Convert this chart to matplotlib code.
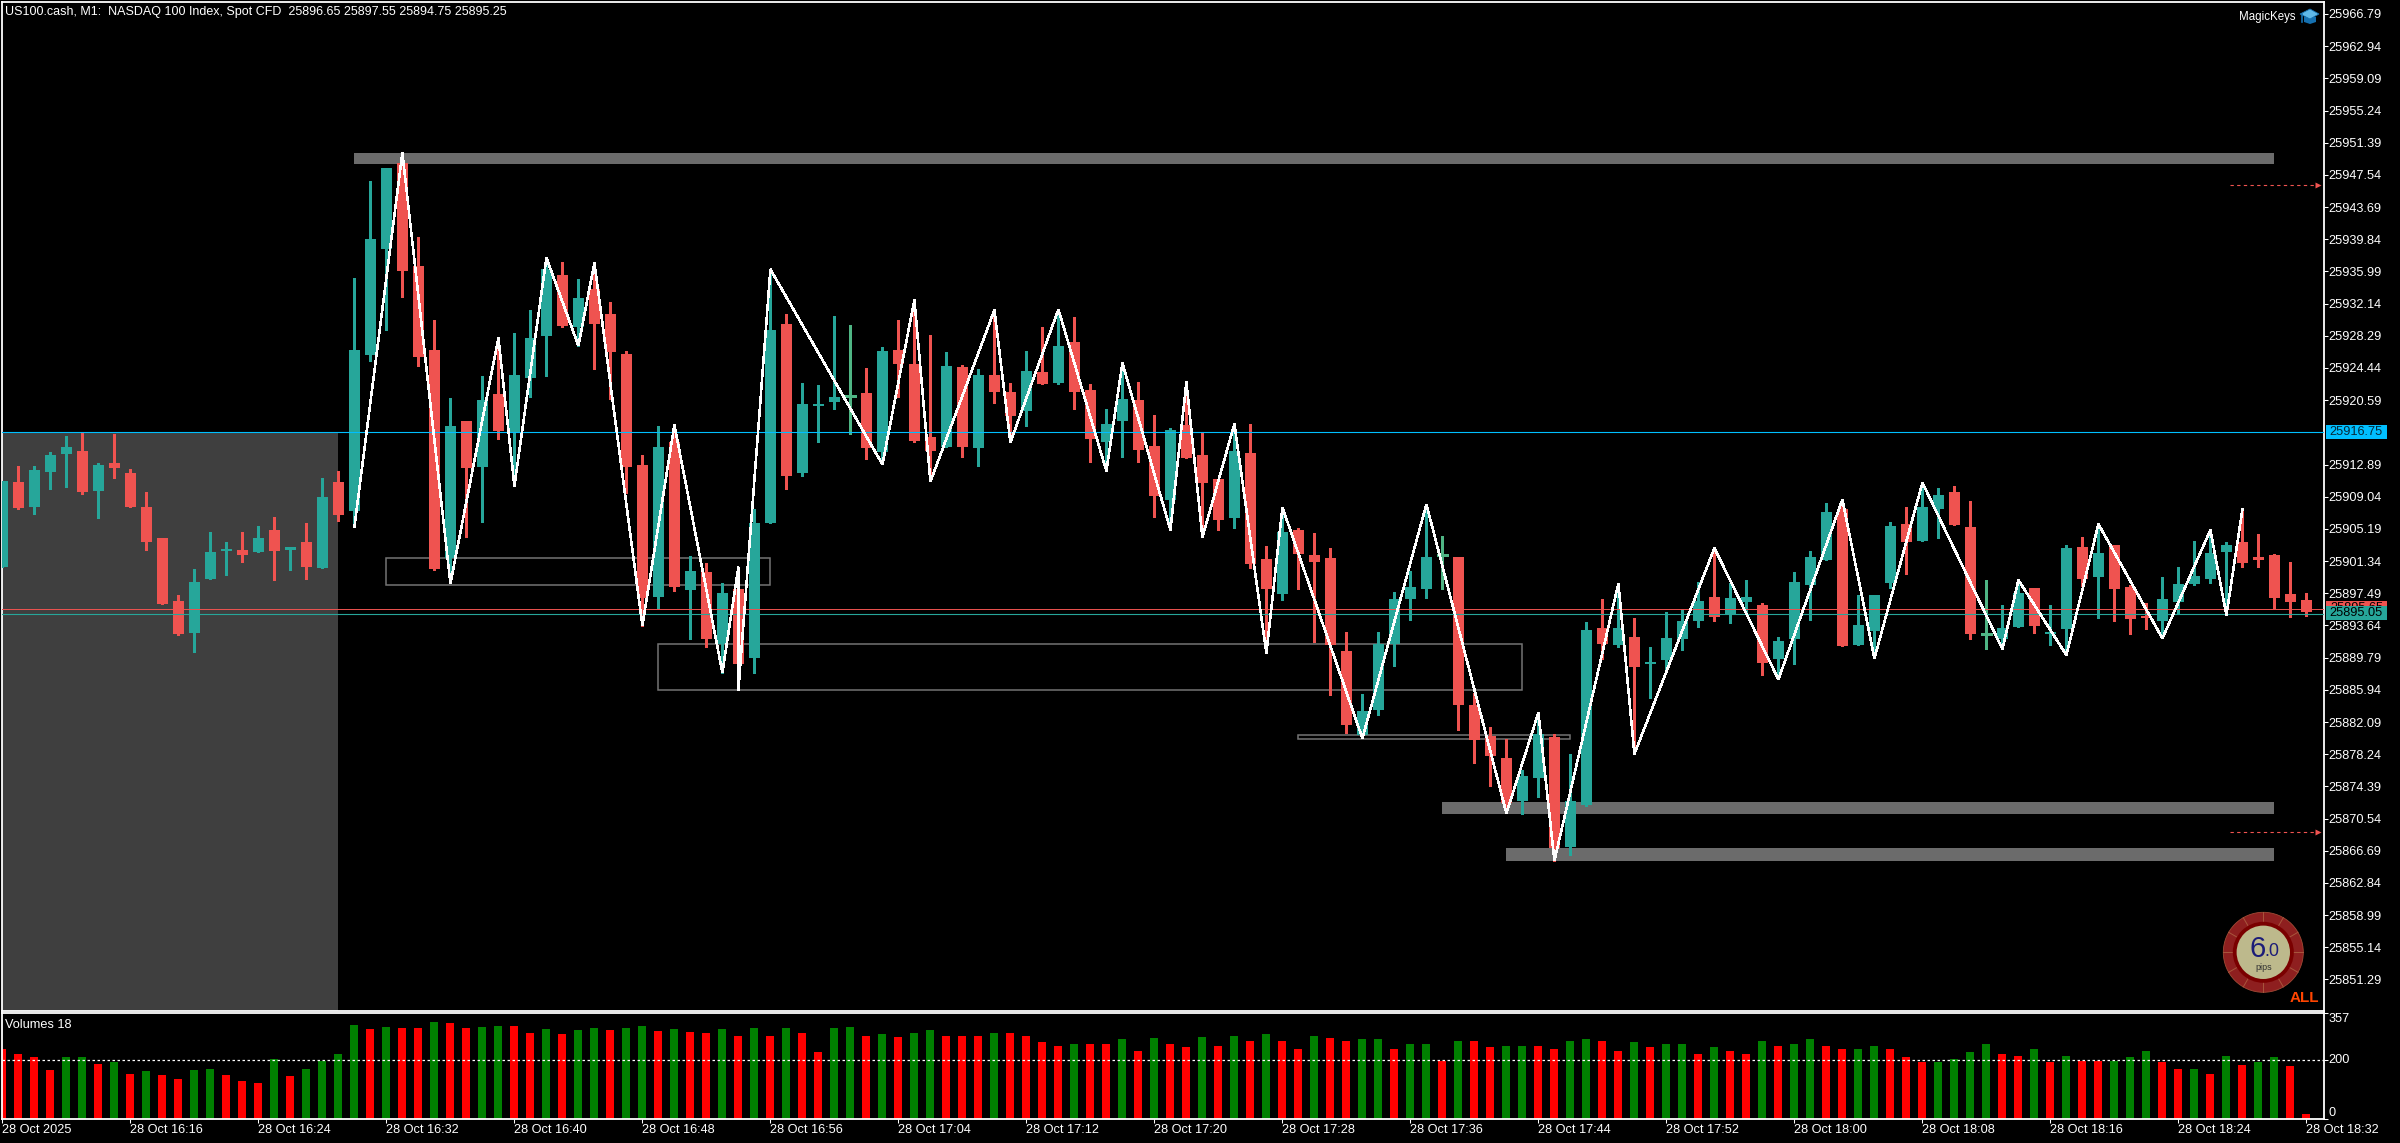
import matplotlib
matplotlib.use("Agg")
import matplotlib.pyplot as plt
from matplotlib.patches import Rectangle, Circle, Polygon
import numpy as np

plt.rcParams['font.family'] = ['Liberation Sans', 'DejaVu Sans']

# ---------- data ----------
opens = [25900.62,25910.79,25907.80,25911.98,25914.16,25914.50,25909.72,25913.09,25911.90,25907.80,
25904.12,25896.56,25892.76,25899.21,25902.54,25902.67,25902.41,25905.06,25902.67,25903.61,
25900.54,25910.79,25907.33,25926.00,25938.68,25948.98,25936.63,25926.59,25901.73,25918.09,
25912.58,25921.34,25916.68,25923.26,25928.26,25935.57,25929.33,25933.90,25930.89,25926.11,
25912.83,25897.05,25915.59,25897.88,25900.04,25891.42,25898.00,25889.75,25905.90,25929.70,
25911.88,25919.89,25920.37,25921.05,25921.45,25914.39,25926.59,25924.91,25916.18,25914.99,
25924.56,25914.87,25923.60,25921.57,25919.29,25923.96,25922.64,25927.55,25921.80,25915.59,
25918.10,25920.61,25915.11,25908.65,25917.62,25914.03,25911.16,25906.50,25914.27,25901.59,
25897.41,25905.06,25902.07,25901.71,25890.59,25880.54,25883.53,25891.43,25896.81,25898.00,
25902.03,25901.83,25884.13,25880.42,25877.79,25872.65,25875.40,25880.30,25867.14,25872.17,
25893.34,25891.31,25892.26,25889.03,25889.51,25892.02,25894.18,25897.04,25895.05,25896.44,
25896.08,25889.62,25892.02,25898.47,25901.47,25907.57,25891.30,25892.97,25898.71,25905.77,
25903.74,25907.57,25909.60,25905.41,25892.57,25892.02,25893.45,25898.12,25892.61,25893.21,
25903.02,25899.43,25903.26,25898.24,25894.77,25894.17,25896.44,25898.59,25899.19,25902.42,
25903.62,25901.82,25902.06,25897.40,25896.65]

closes = [25910.92,25907.71,25912.24,25914.03,25914.97,25909.59,25912.84,25912.50,25907.80,25903.61,
25896.22,25892.63,25898.83,25902.41,25902.80,25902.07,25904.12,25902.54,25903.01,25900.62,
25908.99,25906.86,25926.59,25939.88,25948.38,25936.04,25925.74,25900.41,25917.50,25912.50,
25920.61,25916.90,25923.60,25928.05,25936.29,25929.46,25932.83,25929.71,25926.35,25912.59,
25896.93,25914.99,25898.24,25900.16,25892.02,25897.52,25889.03,25905.90,25928.98,25911.52,
25920.13,25920.13,25920.97,25921.05,25914.87,25926.47,25924.91,25915.70,25914.51,25924.68,
25914.99,25923.60,25921.57,25918.69,25924.08,25922.52,25927.07,25921.57,25915.94,25917.74,
25920.73,25914.63,25909.13,25917.02,25913.67,25910.68,25906.26,25914.51,25900.99,25898.00,
25904.82,25902.19,25901.23,25891.31,25881.74,25883.41,25891.43,25896.81,25898.24,25901.83,
25902.03,25884.13,25879.94,25878.03,25872.37,25875.64,25880.66,25866.98,25872.65,25893.10,
25891.43,25893.34,25888.67,25889.27,25892.14,25894.18,25896.57,25894.65,25896.92,25897.04,
25889.15,25891.78,25898.83,25901.82,25907.21,25891.18,25893.69,25897.28,25905.53,25903.62,
25907.80,25909.24,25905.65,25892.61,25892.57,25893.33,25897.52,25893.57,25892.85,25902.90,
25899.19,25902.30,25898.00,25894.41,25894.53,25896.80,25898.59,25899.55,25902.30,25903.26,
25901.11,25901.47,25896.92,25896.44,25895.25]

highs = [25910.92,25912.71,25912.71,25914.38,25916.30,25916.68,25913.09,25916.56,25912.37,25909.59,
25904.12,25897.29,25900.41,25904.81,25903.61,25904.81,25905.53,25906.60,25903.01,25905.92,
25911.30,25912.11,25935.22,25946.80,25948.38,25950.18,25940.09,25930.18,25920.87,25918.09,
25923.48,25926.85,25928.64,25931.38,25937.62,25937.10,25935.10,25937.02,25932.33,25926.47,
25914.03,25917.50,25917.62,25901.95,25901.11,25898.72,25900.63,25907.57,25936.24,25930.89,
25922.64,25922.40,25930.66,25929.58,25924.44,25926.95,25930.18,25932.57,25928.38,25926.35,
25924.79,25924.32,25931.37,25922.64,25926.47,25929.34,25931.49,25930.54,25922.52,25919.53,
25925.03,25922.76,25918.81,25917.26,25922.76,25916.74,25911.16,25917.74,25917.74,25903.15,
25907.77,25905.30,25904.70,25902.91,25892.86,25885.45,25892.86,25897.65,25900.16,25908.05,
25904.34,25901.83,25885.52,25881.50,25880.02,25876.35,25883.21,25880.62,25878.27,25894.06,
25896.81,25898.68,25894.54,25891.07,25895.25,25895.61,25898.84,25902.90,25898.67,25899.07,
25896.32,25892.26,25900.03,25902.54,25908.28,25908.72,25897.28,25897.28,25906.01,25907.80,
25910.71,25910.08,25910.32,25908.52,25899.07,25896.08,25899.07,25898.12,25896.08,25903.26,
25904.22,25905.77,25903.26,25898.47,25896.32,25899.43,25900.63,25903.74,25905.05,25903.62,
25907.53,25904.57,25902.18,25901.23,25897.55]

lows = [25900.62,25907.58,25906.99,25909.98,25910.19,25909.38,25906.52,25911.30,25907.80,25902.71,
25896.22,25892.50,25890.45,25899.21,25899.68,25901.22,25902.41,25899.08,25900.28,25899.21,
25900.54,25906.13,25905.41,25925.27,25928.99,25932.92,25924.67,25900.28,25898.66,25904.21,
25906.00,25915.96,25910.40,25920.96,25923.48,25929.33,25927.11,25924.33,25920.73,25909.44,
25893.62,25895.73,25897.76,25892.02,25891.07,25888.00,25885.92,25887.96,25905.90,25909.96,
25911.52,25915.59,25919.53,25916.54,25913.55,25912.91,25920.97,25915.59,25910.92,25914.99,
25913.79,25912.71,25920.25,25915.59,25917.50,25922.52,25922.52,25919.53,25913.19,25912.12,
25913.79,25913.19,25906.61,25905.06,25913.67,25904.18,25905.06,25905.30,25900.52,25890.31,
25896.69,25898.00,25891.66,25885.33,25880.78,25880.14,25882.93,25888.79,25894.30,25896.93,
25898.00,25881.14,25877.19,25874.44,25871.17,25871.09,25873.13,25865.51,25866.19,25872.05,
25889.63,25891.07,25878.27,25884.97,25888.20,25890.71,25893.46,25894.17,25893.93,25895.09,
25887.71,25887.19,25889.03,25894.29,25901.47,25891.18,25891.30,25889.70,25898.12,25899.79,
25903.74,25904.10,25905.65,25892.02,25890.82,25890.82,25893.45,25892.73,25891.30,25890.10,
25898.36,25894.53,25894.17,25892.61,25893.21,25892.14,25895.09,25898.47,25898.71,25894.89,
25900.63,25900.63,25895.72,25894.65,25894.75]

volumes = [235,221,211,167,208,211,187,194,153,163,150,136,167,170,150,129,122,204,146,170,
197,221,316,303,310,306,306,327,323,306,310,313,313,289,303,286,299,306,299,306,
313,296,303,293,289,303,282,306,279,306,289,225,306,310,279,286,276,289,299,282,
282,279,289,289,279,259,248,255,252,252,269,231,272,252,242,276,245,282,265,286,
262,238,282,272,262,269,269,238,255,255,197,265,262,242,248,248,245,238,262,269,
262,228,259,242,252,255,221,242,231,218,262,248,255,269,245,235,235,245,238,208,
191,194,204,225,252,218,214,235,191,214,197,197,197,208,228,194,170,170,153,214,
184,194,211,180,17]

# one flag per volume bar: 1 = green, 0 = red
volume_green = [0,0,0,0,1,1,0,1,0,1,0,0,1,1,0,0,0,1,0,1,
1,1,1,0,1,0,0,1,0,0,1,1,0,0,1,0,1,1,0,1,
1,0,1,0,0,1,0,1,0,1,0,0,1,1,0,1,0,1,1,0,
0,0,1,0,0,0,0,1,0,0,1,0,1,0,0,1,0,1,0,1,
0,0,1,0,0,1,1,0,1,1,0,1,0,0,1,1,0,0,1,1,
0,0,1,0,1,1,0,1,0,0,1,0,1,1,0,0,1,1,0,0,
0,1,1,1,1,0,0,1,0,1,0,0,1,1,1,0,0,1,0,1,
0,1,1,0,0]

zigzag_bars = [22,25,28,31,32,34,36,37,40,42,45,46,46,48,55,57,58,62,63,66,69,70,73,74,75,77,79,80,85,89,
94,96,97,101,102,107,111,115,117,120,125,126,129,131,135,138,139,140]
zigzag_prices = [25905.41,25950.18,25898.66,25928.05,25910.32,25937.62,25927.11,25937.02,25893.62,25917.62,
25888.00,25900.63,25885.92,25936.24,25912.91,25932.57,25910.85,25931.37,25915.55,25931.45,
25912.12,25925.03,25905.06,25922.76,25904.18,25917.74,25890.31,25907.77,25880.14,25908.13,
25871.17,25883.21,25865.51,25898.68,25878.27,25902.90,25887.19,25908.72,25889.70,25910.71,
25890.82,25899.07,25890.10,25905.77,25892.10,25905.05,25894.85,25907.53]

# zones: (first bar, last bar, upper price, lower price)
filled_zones = [(22,142,25950.15,25948.84),(90,142,25872.52,25871.09),(94,142,25867.02,25865.46)]
outline_zones = [(24,48,25901.74,25898.51),(41,95,25891.42,25885.92),(81,98,25880.54,25880.06)]
session_last_bar = 21

level_price = 25916.75
ask_price = 25895.65
bid_price = 25895.05
alert_prices = [25946.29, 25868.93]

price_ticks = [25966.79,25962.94,25959.09,25955.24,25951.39,25947.54,25943.69,25939.84,25935.99,25932.14,
25928.29,25924.44,25920.59,25912.89,25909.04,25905.19,25901.34,25897.49,25893.64,25889.79,
25885.94,25882.09,25878.24,25874.39,25870.54,25866.69,25862.84,25858.99,25855.14,25851.29]
time_tick_bars = list(range(0,145,8))
time_tick_labels = ["28 Oct 2025","28 Oct 16:16","28 Oct 16:24","28 Oct 16:32","28 Oct 16:40","28 Oct 16:48",
"28 Oct 16:56","28 Oct 17:04","28 Oct 17:12","28 Oct 17:20","28 Oct 17:28","28 Oct 17:36","28 Oct 17:44",
"28 Oct 17:52","28 Oct 18:00","28 Oct 18:08","28 Oct 18:16","28 Oct 18:24","28 Oct 18:32"]
volume_ticks = [0,200,357]

# ---------- style ----------
TEAL = '#26a69a'; RED = '#ef5350'; DOJI = '#4fb584'; CYAN = '#00bfff'
FS = 9.15
W, H = 2400, 1143
L, R = 2.0, 2323.7

fig = plt.figure(figsize=(24, 11.43), dpi=100, facecolor='black')
def make_axes(top, bottom):
    return fig.add_axes([L/W, 1-bottom/H, (R-L)/W, (bottom-top)/H], facecolor='black')

ax = make_axes(2, 1011)
axv = make_axes(1013.3, 1119)
xlim = (-0.025, 145.08)
ax.set_xlim(*xlim); axv.set_xlim(*xlim)
ax.set_ylim(25847.52, 25968.22)
axv.set_ylim(0, 357)

# session shading
ax.add_patch(Rectangle((xlim[0], 25847.52), session_last_bar-xlim[0], level_price-25847.52,
                       fc='#3f3f3f', ec='none', zorder=1, antialiased=False))
for a, b, hi, lo in filled_zones:
    ax.add_patch(Rectangle((a, lo), b-a, hi-lo, fc='#6b6b6b', ec='none', zorder=2, antialiased=False))
for a, b, hi, lo in outline_zones:
    ax.add_patch(Rectangle((a, lo), b-a, hi-lo, fc='none', ec='#737373', lw=1.1, zorder=2))

# candles
idx = np.arange(len(opens))
O, Hi, Lo, C = map(np.array, (opens, highs, lows, closes))
cols = np.where(C > O, TEAL, np.where(C < O, RED, DOJI))
ax.vlines(idx, Lo, Hi, colors=cols, lw=0.75, zorder=3, antialiased=False)
body = C != O
ax.bar(idx[body], (C-O)[body], bottom=O[body], width=0.72, color=cols[body], lw=0, zorder=4, antialiased=False)
ax.hlines(C[~body], idx[~body]-0.345, idx[~body]+0.345, colors=DOJI, lw=0.75, zorder=4, antialiased=False)

# level lines
ax.axhline(level_price, color=CYAN, lw=0.8, zorder=5)
ax.axhline(ask_price, color=RED, lw=0.7, zorder=5)
ax.axhline(bid_price, color=TEAL, lw=0.8, zorder=5)

# zigzag
ax.plot(zigzag_bars, zigzag_prices, color='white', lw=1.1, zorder=6, solid_joinstyle='miter', antialiased=False)

# alert arrows
for p in alert_prices:
    ax.plot([139.2, 144.6], [p, p], color=RED, lw=0.8, dashes=(3, 3), zorder=6)
    ax.plot([144.75], [p], marker='>', ms=5, color=RED, mec='none', zorder=6)

# volumes
vcols = ['#008000' if g else '#ff0000' for g in volume_green]
axv.bar(idx, volumes, width=0.5, color=vcols, lw=0, antialiased=False, zorder=2)
axv.axhline(200, color='white', lw=0.9, dashes=(2, 2), zorder=3)

# axes cosmetics
for a in (ax, axv):
    for s in a.spines.values():
        s.set_color('white'); s.set_linewidth(1.3)
ax.set_xticks([])
ax.yaxis.tick_right()
ax.set_yticks(price_ticks)
ax.set_yticklabels([f"{p:.2f}" for p in price_ticks])
ax.tick_params(axis='y', colors='white', length=3, width=0.75, pad=0.5, labelsize=FS)
axv.yaxis.tick_right()
axv.set_yticks(volume_ticks)
axv.set_yticklabels([str(v) for v in volume_ticks])
axv.tick_params(axis='y', colors='white', length=3, width=0.75, pad=0.5, labelsize=FS)
for lab, va in zip(axv.get_yticklabels(), ['bottom', 'center', 'top']):
    lab.set_va(va)
axv.set_xticks(time_tick_bars)
axv.set_xticklabels(time_tick_labels, ha='left')
axv.tick_params(axis='x', colors='white', length=3, width=0.75, pad=0.5, labelsize=FS)

# overlay in figure pixels for the terminal decorations
ov = fig.add_axes([0, 0, 1, 1], facecolor='none')
ov.set_xlim(0, W); ov.set_ylim(H, 0); ov.axis('off')

ov.text(5, 12, "US100.cash, M1:  NASDAQ 100 Index, Spot CFD  25896.65 25897.55 25894.75 25895.25",
        color='white', fontsize=9.0, va='center', ha='left')
ov.text(5, 1024.7, "Volumes 18", color='white', fontsize=FS, va='center', ha='left')
ov.text(2296, 16.7, "MagicKeys", color='white', fontsize=8.3, va='center', ha='right')

# price boxes
ov.add_patch(Rectangle((2326, 425), 61, 14, fc=CYAN, ec='none', zorder=10))
ov.text(2356.5, 432.3, f"{level_price:.2f}", color='#062a3a', fontsize=FS, ha='center', va='center', zorder=11)
ov.add_patch(Rectangle((2326, 601), 61, 14, fc=RED, ec='none', zorder=10))
ov.text(2356.5, 608, f"{ask_price:.2f}", color='black', fontsize=FS, ha='center', va='center', zorder=11)
ov.add_patch(Rectangle((2326, 605.7), 61, 14, fc=TEAL, ec='none', zorder=12))
ov.text(2356.5, 612.7, f"{bid_price:.2f}", color='black', fontsize=FS, ha='center', va='center', zorder=13)

# graduation cap
ov.add_patch(Polygon([(2304, 17), (2304, 22), (2310, 24), (2316, 22), (2316, 17)], fc='#1570b0', ec='none', zorder=10))
ov.add_patch(Polygon([(2300, 14), (2310, 9), (2319, 14), (2310, 19)], fc='#5fb8e8', ec='#1570b0', lw=0.6, zorder=11))
ov.plot([2302, 2302], [14, 22], color='#1570b0', lw=1.2, zorder=11)

# pips gauge
cx, cy = 2263.3, 952.3
ov.add_patch(Circle((cx, cy), 40, fc='#8e1f1f', ec='#a04a35', lw=0.6, zorder=10))
for ang in np.arange(0, 360, 30):
    t = np.deg2rad(ang)
    ov.plot([cx+30*np.sin(t), cx+40*np.sin(t)], [cy-30*np.cos(t), cy-40*np.cos(t)], color='#a8563c', lw=0.7, zorder=11)
ov.add_patch(Circle((cx, cy), 30.5, fc='#7a0000', ec='none', zorder=12))
ov.add_patch(Circle((cx, cy), 26.7, fc='#bdb98c', ec='none', zorder=13))
ov.text(2257.5, 949, "6", color='#1c1c78', fontsize=21, ha='center', va='center', zorder=14)
ov.text(2272, 952, ".0", color='#1c1c78', fontsize=13, ha='center', va='center', zorder=14)
ov.text(2263.3, 967.5, "pips", color='#333333', fontsize=6.5, ha='center', va='center', zorder=14)
ov.text(2304, 997.7, "ALL", color='#ff4500', fontsize=11, fontweight='bold', ha='center', va='center', zorder=14)

fig.savefig('out.png', dpi=100, facecolor='black')
